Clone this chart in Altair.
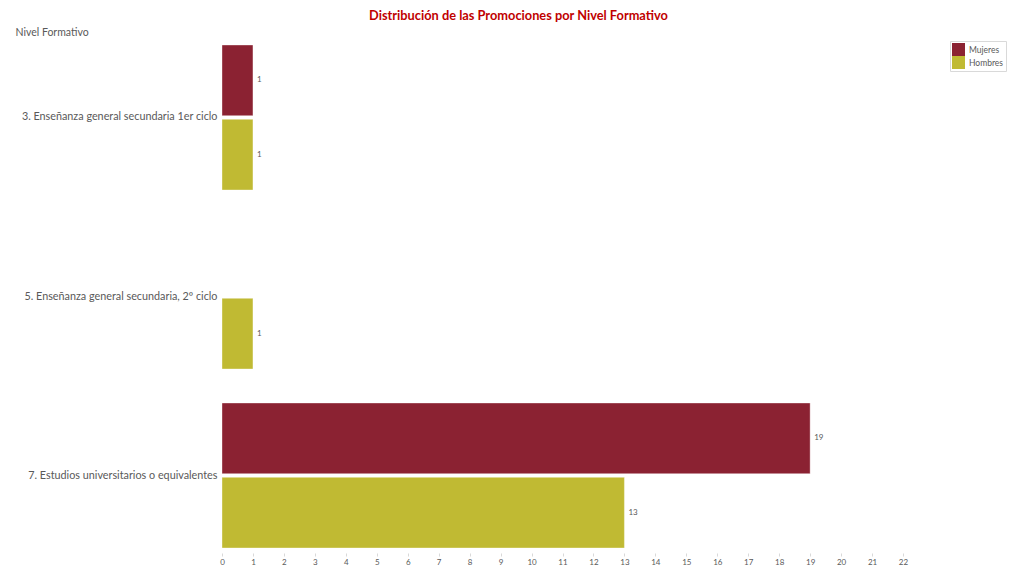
import altair as alt
import pandas as pd

categorias = [
    "3. Enseñanza general secundaria 1er ciclo",
    "5. Enseñanza general secundaria, 2º ciclo",
    "7. Estudios universitarios o equivalentes",
]
series = ["Mujeres", "Hombres"]
mujeres = [1, None, 19]
hombres = [1, 1, 13]
colores = ["#8B2232", "#C0BA33"]
x_ticks = list(range(0, 23))

rows = []
for c, m, h in zip(categorias, mujeres, hombres):
    if m is not None:
        rows.append({"Nivel": c, "Sexo": "Mujeres", "Valor": m})
    if h is not None:
        rows.append({"Nivel": c, "Sexo": "Hombres", "Valor": h})
df = pd.DataFrame(rows)

FONT = "Lato"
GREY = "#595959"

base = alt.Chart(df).encode(
    x=alt.X(
        "Valor:Q",
        scale=alt.Scale(domain=[0, 22], nice=False),
        axis=alt.Axis(
            title=None,
            values=x_ticks,
            grid=False,
            domain=False,
            tickSize=3,
            tickColor="#d9d9d9",
            offset=5,
            labelPadding=2,
            labelOverlap=False,
            labelFlush=False,
            labelFont=FONT,
            labelFontSize=8,
            labelColor=GREY,
        ),
    ),
    y=alt.Y(
        "Nivel:N",
        sort=categorias,
        scale=alt.Scale(paddingInner=0.19, paddingOuter=0),
        axis=alt.Axis(
            title="Nivel Formativo",
            titleAngle=0,
            titleAlign="left",
            titleBaseline="middle",
            titleX=-207,
            titleY=-13,
            titleFont=FONT,
            titleFontSize=10.5,
            titleFontWeight="normal",
            titleColor=GREY,
            labelFont=FONT,
            labelFontSize=10.8,
            labelColor=GREY,
            labelPadding=5,
            labelLimit=300,
            ticks=False,
            domain=False,
        ),
    ),
    yOffset=alt.YOffset("Sexo:N", sort=series, scale=alt.Scale(paddingInner=0.05)),
)

bars = base.mark_bar(stroke="#ffffff", strokeWidth=0.6, strokeOpacity=0.6).encode(
    color=alt.Color(
        "Sexo:N",
        sort=series,
        scale=alt.Scale(domain=series, range=colores),
        legend=alt.Legend(
            title=None,
            orient="none",
            legendX=728,
            legendY=-4,
            symbolType="square",
            symbolSize=169,
            symbolStrokeWidth=0,
            rowPadding=0,
            labelFont=FONT,
            labelFontSize=8.5,
            labelColor=GREY,
            strokeColor="#d9d9d9",
            padding=2,
            labelOffset=4,
        ),
    ),
)

labels = base.mark_text(align="left", baseline="middle", dx=4, font=FONT, fontSize=8, color=GREY).encode(
    text="Valor:Q",
)

chart = (
    (bars + labels)
    .properties(
        width=681,
        height=503,
        autosize=alt.AutoSizeParams(type="none"),
        padding={"left": 214, "top": 37, "right": 110, "bottom": 18},
        title=alt.TitleParams(
            "Distribución de las Promociones por Nivel Formativo",
            anchor="middle",
            dx=-44,
            font=FONT,
            fontSize=12.8,
            fontWeight="bold",
            color="#C00000",
        ),
    )
    .configure_view(stroke=None)
)

chart.save("out.html", embed_options={"renderer": "svg", "actions": False})
